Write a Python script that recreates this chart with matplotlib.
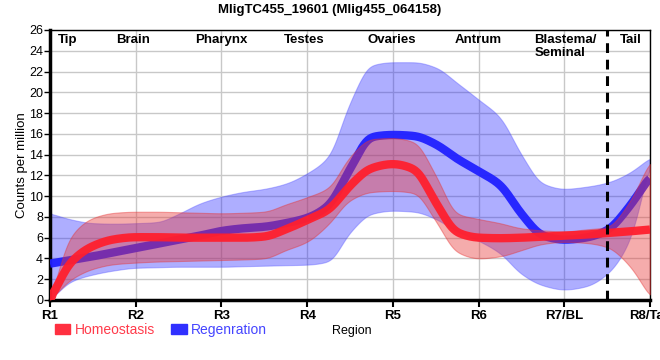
import numpy as np
import matplotlib
matplotlib.use("Agg")
import matplotlib.pyplot as plt
from matplotlib.patches import Patch

plt.rcParams['font.family'] = ['Liberation Sans', 'DejaVu Sans']

# ---- data -------------------------------------------------------------
regions = ["R1", "R2", "R3", "R4", "R5", "R6", "R7/BL", "R8/Tail"]
tissues = ["Tip", "Brain", "Pharynx", "Testes", "Ovaries", "Antrum", "Blastema/\nSeminal", "Tail"]
tissue_pos = [0.21, 0.97, 2.0, 2.96, 3.99, 5.0, 5.65, 6.78]

# sample positions along the region axis (R1 = 0 ... R8 = 7)
pos = [0, 0.25, 0.5, 0.75, 1, 1.25, 1.5, 1.75, 2, 2.25, 2.5, 2.75, 3, 3.25, 3.5,
       3.75, 4, 4.25, 4.5, 4.75, 5, 5.25, 5.5, 5.75, 6, 6.25, 6.5, 6.75, 7]

homeo_mean = [0, 3.7, 5.2, 5.85, 6.05, 6.05, 6.0, 6.0, 6.0, 6.0, 6.1, 6.8, 7.7, 8.7, 11.0,
              12.7, 13.1, 12.6, 9.4, 6.5, 6.0, 5.95, 6.0, 6.1, 6.2, 6.3, 6.45, 6.6, 6.8]
homeo_upper = [0, 6.2, 7.9, 8.4, 8.5, 8.5, 8.45, 8.4, 8.35, 8.4, 8.5, 9.2, 9.9, 10.8, 13.8,
               15.5, 15.6, 15.2, 12.0, 8.3, 7.8, 7.4, 6.9, 6.7, 6.6, 6.8, 7.0, 9.3, 13.4]
homeo_lower = [0, 2.0, 3.0, 3.45, 3.6, 3.7, 3.75, 3.8, 3.85, 3.9, 4.0, 4.8, 5.6, 7.3, 9.6,
               10.4, 10.5, 10.3, 7.6, 4.6, 4.0, 4.2, 4.8, 5.4, 5.6, 5.5, 5.1, 3.4, 0.3]

regen_mean = [3.5, 3.85, 4.2, 4.6, 5.0, 5.4, 5.8, 6.2, 6.65, 6.9, 7.05, 7.4, 7.9, 9.1, 12.6,
              15.7, 15.9, 15.8, 15.0, 13.6, 12.4, 11.1, 8.3, 6.2, 5.8, 6.0, 6.7, 8.9, 11.9]
regen_upper = [8.35, 7.75, 7.4, 7.35, 7.4, 7.5, 8.3, 9.3, 9.95, 10.4, 10.7, 11.2, 12.2, 13.8, 19.0,
               22.6, 22.9, 22.9, 22.4, 20.9, 19.3, 17.6, 14.0, 11.2, 10.7, 10.9, 11.3, 12.2, 13.7]
regen_lower = [0, 1.8, 2.45, 2.85, 3.1, 3.15, 3.2, 3.2, 3.2, 3.25, 3.3, 3.35, 3.4, 3.7, 6.5,
               8.3, 8.6, 8.5, 7.8, 6.6, 5.7, 4.5, 2.5, 1.4, 1.0, 1.3, 2.5, 5.5, 13.2]

divider_pos = 6.5


# ---- smooth drawing helper (monotone cubic through the samples) -------
def pchip(x, y, xs):
    x = np.asarray(x, float); y = np.asarray(y, float)
    h = np.diff(x); d = np.diff(y) / h
    n = len(x); m = np.zeros(n)
    for k in range(1, n - 1):
        if d[k - 1] * d[k] > 0:
            w1 = 2 * h[k] + h[k - 1]; w2 = h[k] + 2 * h[k - 1]
            m[k] = (w1 + w2) / (w1 / d[k - 1] + w2 / d[k])
    m[0] = d[0]; m[-1] = d[-1]
    idx = np.clip(np.searchsorted(x, xs) - 1, 0, n - 2)
    t = (xs - x[idx]) / h[idx]
    h00 = 2 * t**3 - 3 * t**2 + 1; h10 = t**3 - 2 * t**2 + t
    h01 = -2 * t**3 + 3 * t**2; h11 = t**3 - t**2
    ys = h00 * y[idx] + h10 * h[idx] * m[idx] + h01 * y[idx + 1] + h11 * h[idx] * m[idx + 1]
    # light smoothing to soften joints
    sig = 4.0
    k = np.arange(-12, 13)
    w = np.exp(-0.5 * (k / sig) ** 2); w /= w.sum()
    pad = np.concatenate([np.full(12, ys[0]), ys, np.full(12, ys[-1])])
    sm = np.convolve(pad, w, mode='valid')
    sm[:3] = ys[:3]
    return sm


xs = np.linspace(0, 7, 601)

fig = plt.figure(figsize=(6.6, 3.6), dpi=100)
ax = fig.add_axes([50 / 660, 1 - 300 / 360, 600 / 660, 270 / 360])

red = "#ff1f2e"
blue = "#2020ff"

ax.fill_between(xs, pchip(pos, regen_lower, xs), pchip(pos, regen_upper, xs),
                color=blue, alpha=0.36, lw=0.8, edgecolor=(0.3, 0.3, 1, 0.5), zorder=2)
ax.plot(xs, pchip(pos, regen_mean, xs), color=blue, lw=6, alpha=0.95,
        solid_capstyle='butt', zorder=3)
ax.fill_between(xs, pchip(pos, homeo_lower, xs), pchip(pos, homeo_upper, xs),
                color="#e83a3a", alpha=0.42, lw=0.8, edgecolor=(0.9, 0.2, 0.2, 0.5), zorder=4)
ax.plot(xs, pchip(pos, homeo_mean, xs), color=red, lw=6, alpha=0.95,
        solid_capstyle='butt', zorder=5)

ax.axvline(divider_pos, color="black", lw=2.2, ls=(0, (3.2, 2.2)), zorder=6)

ax.set_xlim(0, 7)
ax.set_ylim(0, 26)
ax.set_yticks(np.arange(0, 27, 2))
ax.set_xticks(range(len(regions)))
ax.set_xticklabels(regions, fontweight='bold', fontsize=9.5)
ax.tick_params(axis='y', labelsize=9, length=4, width=1, pad=1)
ax.tick_params(axis='x', length=5, width=1.5, pad=2)
ax.grid(True, color="#c8c8c8", lw=1, zorder=0)
ax.set_axisbelow(True)
for s in ["left", "bottom"]:
    ax.spines[s].set_linewidth(2.5)
for s in ["top", "right"]:
    ax.spines[s].set_linewidth(1.0)

for name, p in zip(tissues, tissue_pos):
    if "\n" in name:
        ax.text(p, 25.6, name, ha='left', va='top', fontweight='bold', fontsize=9.5,
                linespacing=1.05, zorder=7)
    else:
        ax.text(p, 25.6, name, ha='center', va='top', fontweight='bold', fontsize=9.5, zorder=7)

ax.set_ylabel("Counts per million", fontsize=9.5, labelpad=1)
fig.text(0.5, 1 - 10 / 360, "MligTC455_19601 (Mlig455_064158)", ha='center', va='center',
         fontweight='bold', fontsize=9.5)
fig.text(332 / 660, 1 - 331 / 360, "Region", ha='left', va='center', fontsize=9)

handles = [Patch(color="#ff3040", label="Homeostasis"), Patch(color="#3030ff", label="Regenration")]
leg = fig.legend(handles=handles, loc='center left', bbox_to_anchor=(55 / 660, 1 - 330 / 360),
                 ncol=2, frameon=False, fontsize=10, handlelength=1.1, handleheight=0.75,
                 handletextpad=0.3, columnspacing=1.2, borderaxespad=0, borderpad=0)
for t, c in zip(leg.get_texts(), ["#ff3b4b", "#4545ff"]):
    t.set_color(c)

fig.savefig("out.png", dpi=100)
